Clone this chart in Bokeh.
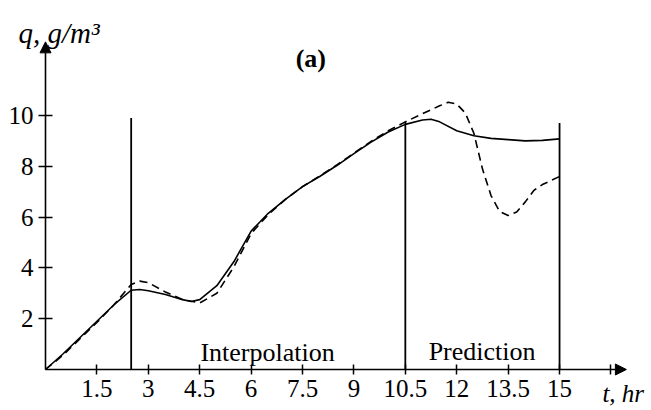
from bokeh.plotting import figure
from bokeh.models import Range1d, FixedTicker, CustomJSTickFormatter, Arrow, NormalHead, Label
from bokeh.embed import file_html
from bokeh.resources import INLINE

# ---- data ----
t_model = [0, 0.5, 1.0, 1.5, 2.0, 2.5, 2.75, 3.0, 3.5, 4.0, 4.25, 4.5, 5.0, 5.5, 6.0, 6.5,
           7.0, 7.5, 8.0, 8.5, 9.0, 9.5, 10.0, 10.5, 11.0, 11.25, 11.5, 12.0, 12.5, 13.0,
           13.5, 14.0, 14.5, 15.0]
q_model = [0, 0.6, 1.25, 1.9, 2.55, 3.12, 3.15, 3.1, 2.95, 2.75, 2.68, 2.75, 3.3, 4.25, 5.45, 6.15,
           6.7, 7.2, 7.6, 8.03, 8.5, 8.95, 9.35, 9.65, 9.82, 9.85, 9.75, 9.4, 9.2, 9.1,
           9.05, 9.0, 9.02, 9.08]

t_meas = [0, 0.5, 1.0, 1.5, 2.0, 2.5, 2.75, 3.0, 3.5, 4.0, 4.5, 5.0, 5.5, 6.0, 6.5, 7.0,
          7.5, 8.0, 8.5, 9.0, 9.5, 10.0, 10.5, 11.0, 11.5, 11.75, 12.0, 12.25, 12.5, 12.75,
          13.0, 13.25, 13.5, 13.75, 14.0, 14.25, 14.5, 15.0]
q_meas = [0, 0.55, 1.2, 1.85, 2.55, 3.35, 3.48, 3.42, 3.05, 2.75, 2.62, 3.0, 4.05, 5.35, 6.1, 6.7,
          7.2, 7.62, 8.05, 8.52, 8.98, 9.4, 9.75, 10.07, 10.38, 10.52, 10.45, 10.1, 9.3, 7.9,
          6.85, 6.22, 6.06, 6.2, 6.6, 7.05, 7.28, 7.6]

vline_t = [2.5, 10.5, 15.0]
vline_top = [9.9, 9.75, 9.7]

x_ticks = [1.5, 3, 4.5, 6, 7.5, 9, 10.5, 12, 13.5, 15, 16.5]
y_ticks = [2, 4, 6, 8, 10]

FONT = "Liberation Serif"

# frame covers the whole canvas; axes are pinned at 0
p = figure(width=651, height=410, output_backend="svg", toolbar_location=None,
           x_range=Range1d(-45 / 34.27, 606 / 34.27), y_range=Range1d(-41 / 25.4, 369 / 25.4),
           min_border=0)
p.outline_line_color = None
p.xgrid.visible = False
p.ygrid.visible = False
p.background_fill_color = "white"
p.border_fill_color = "white"

for ax, ticks in ((p.xaxis, x_ticks), (p.yaxis, y_ticks)):
    ax.ticker = FixedTicker(ticks=ticks)
    ax.fixed_location = 0
    ax.axis_line_color = None
    ax.minor_tick_line_color = None
    ax.major_tick_line_color = "black"
    ax.major_tick_line_width = 1.5
    ax.major_label_text_font = FONT
    ax.major_label_text_font_size = "25px"
    ax.major_label_text_color = "black"

p.xaxis.major_tick_in = 5
p.xaxis.major_tick_out = 5
p.xaxis.major_label_standoff = 5
p.xaxis.formatter = CustomJSTickFormatter(code="return tick > 16 ? '' : String(tick);")
p.yaxis.major_tick_in = 7
p.yaxis.major_tick_out = 7
p.yaxis.major_label_standoff = 5

# axes with arrow heads
p.add_layout(Arrow(end=NormalHead(size=11, fill_color="black", line_color="black"),
                   x_start=0, y_start=0, x_end=16.95, y_end=0,
                   line_color="black", line_width=1.6))
p.add_layout(Arrow(end=NormalHead(size=11, fill_color="black", line_color="black"),
                   x_start=0, y_start=0, x_end=0, y_end=12.9,
                   line_color="black", line_width=1.6))

# region separators
p.segment(x0=vline_t, y0=[0] * len(vline_t), x1=vline_t, y1=vline_top,
          line_color="black", line_width=1.8)

p.line(t_model, q_model, line_color="black", line_width=1.6)
p.line(t_meas, q_meas, line_color="black", line_width=1.6, line_dash="8 5")

def lab(x, y, text, size, style="normal"):
    p.add_layout(Label(x=x, y=y, text=text, text_font=FONT, text_font_size=size,
                       text_font_style=style, text_color="black",
                       text_baseline="alphabetic"))

lab(4.52, 0.67, "Interpolation", "26px")
lab(11.18, 0.71, "Prediction", "26px")
lab(7.3, 12.24, "(a)", "26px", "bold")
lab(16.25, -0.94, "t, hr", "25px", "italic")
lab(-0.79, 13.23, "q, g/m³", "29px", "italic")

open("out.html", "w").write(file_html(p, INLINE))
